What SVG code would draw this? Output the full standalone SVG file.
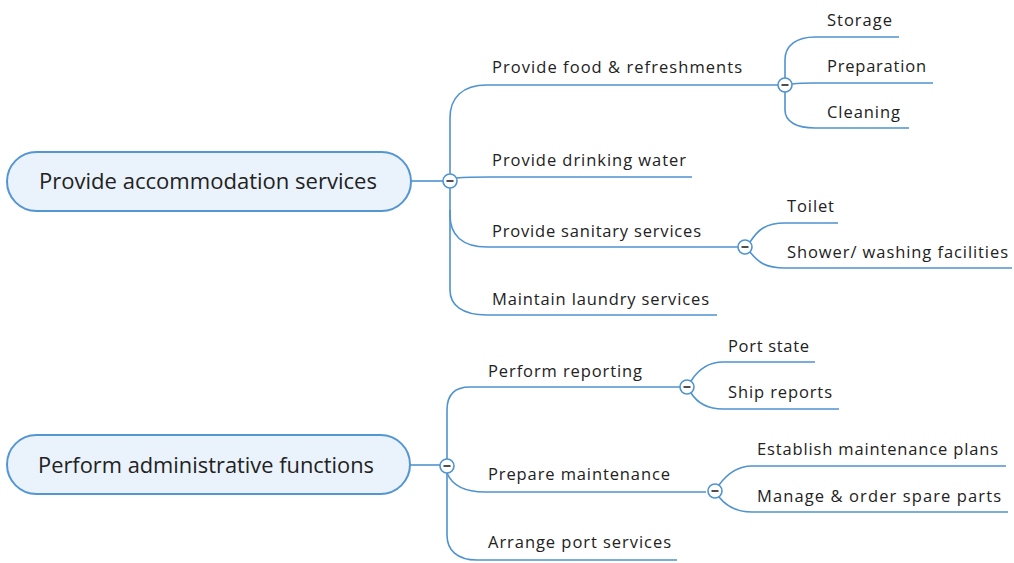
<svg xmlns="http://www.w3.org/2000/svg" width="1014" height="563" viewBox="0 0 1014 563">
<style>
.bg{fill:#ffffff}
.root rect{fill:#eaf3fb;stroke:#5496d2;stroke-width:2}
.rt{font-family:"Open Sans","Noto Sans",sans-serif;font-size:21px;fill:#222}
.t{font-family:"Open Sans","Noto Sans",sans-serif;font-size:16.5px;fill:#222}
.c path{fill:none;stroke:#4f93d0;stroke-width:1.6}
.tog circle{fill:#fff;stroke:#4f93d0;stroke-width:1.6}
.tog line{stroke:#222;stroke-width:1.6}
</style>
<rect class="bg" x="0" y="0" width="1014" height="563"/>
<g id="connectors" class="c">
<path d="M411,181 H443"/>
<path d="M450,174 V118 C450,98 462,85 487,85 H778"/>
<path d="M456,178 Q468,177 490,177 H692"/>
<path d="M450,188 V215 C450,235 462,247 487,247 H738"/>
<path d="M450,210 V290 C450,305 462,315 487,315 H717"/>
<path d="M785,78 V60 C785,45 797,37 815,37 H899"/>
<path d="M792,84 Q800,83 815,83 H933"/>
<path d="M785,92 V110 C785,122 797,128 815,128 H909"/>
<path d="M750,242 C758,230 765,223 785,223 H838"/>
<path d="M750,252 C758,262 765,268 785,268 H1012"/>
<path d="M410,465 H440"/>
<path d="M447,459 V410 C447,395 455,387 470,387 H680"/>
<path d="M447,473 C452,485 465,492 485,492 H706"/>
<path d="M447,473 V535 C447,550 457,560 477,560 H677"/>
<path d="M691,381 C698,370 708,362 723,362 H815"/>
<path d="M691,393 C698,404 708,409 723,409 H839"/>
<path d="M719,485 C727,474 737,466 752,466 H1006"/>
<path d="M719,497 C727,507 737,512 752,512 H1008"/>
</g>
<g id="root1" class="root"><rect x="7" y="152" width="404" height="59" rx="29.5"/><text class="rt" x="39" y="189" textLength="338" lengthAdjust="spacingAndGlyphs">Provide accommodation services</text></g>
<g id="toggle-root1" class="tog"><circle cx="450" cy="181" r="7"/><line x1="446.5" y1="181" x2="453.5" y2="181"/></g>
<g id="food"><text class="t" x="492" y="73" textLength="250">Provide food &amp; refreshments</text></g>
<g id="toggle-food" class="tog"><circle cx="785" cy="85" r="7"/><line x1="781.5" y1="85" x2="788.5" y2="85"/></g>
<g id="storage"><text class="t" x="827" y="26" textLength="65">Storage</text></g>
<g id="preparation"><text class="t" x="827" y="72" textLength="99">Preparation</text></g>
<g id="cleaning"><text class="t" x="827" y="118" textLength="73">Cleaning</text></g>
<g id="water"><text class="t" x="492" y="166" textLength="194">Provide drinking water</text></g>
<g id="sanitary"><text class="t" x="492" y="237" textLength="209">Provide sanitary services</text></g>
<g id="toggle-sanitary" class="tog"><circle cx="745" cy="247" r="7"/><line x1="741.5" y1="247" x2="748.5" y2="247"/></g>
<g id="toilet"><text class="t" x="787" y="212" textLength="47">Toilet</text></g>
<g id="shower"><text class="t" x="787" y="258" textLength="221">Shower/ washing facilities</text></g>
<g id="laundry"><text class="t" x="492" y="305" textLength="217">Maintain laundry services</text></g>
<g id="root2" class="root"><rect x="7" y="435" width="403" height="59" rx="29.5"/><text class="rt" x="38" y="473" textLength="336" lengthAdjust="spacingAndGlyphs">Perform administrative functions</text></g>
<g id="toggle-root2" class="tog"><circle cx="447" cy="466" r="7"/><line x1="443.5" y1="466" x2="450.5" y2="466"/></g>
<g id="reporting"><text class="t" x="488" y="377" textLength="154">Perform reporting</text></g>
<g id="toggle-reporting" class="tog"><circle cx="687" cy="387" r="7"/><line x1="683.5" y1="387" x2="690.5" y2="387"/></g>
<g id="portstate"><text class="t" x="728" y="352" textLength="81">Port state</text></g>
<g id="shipreports"><text class="t" x="728" y="398" textLength="104">Ship reports</text></g>
<g id="maintenance"><text class="t" x="488" y="480" textLength="182">Prepare maintenance</text></g>
<g id="toggle-maintenance" class="tog"><circle cx="715" cy="491" r="7"/><line x1="711.5" y1="491" x2="718.5" y2="491"/></g>
<g id="plans"><text class="t" x="757" y="455" textLength="241">Establish maintenance plans</text></g>
<g id="spares"><text class="t" x="757" y="502" textLength="244">Manage &amp; order spare parts</text></g>
<g id="port"><text class="t" x="488" y="548" textLength="183">Arrange port services</text></g>
</svg>
